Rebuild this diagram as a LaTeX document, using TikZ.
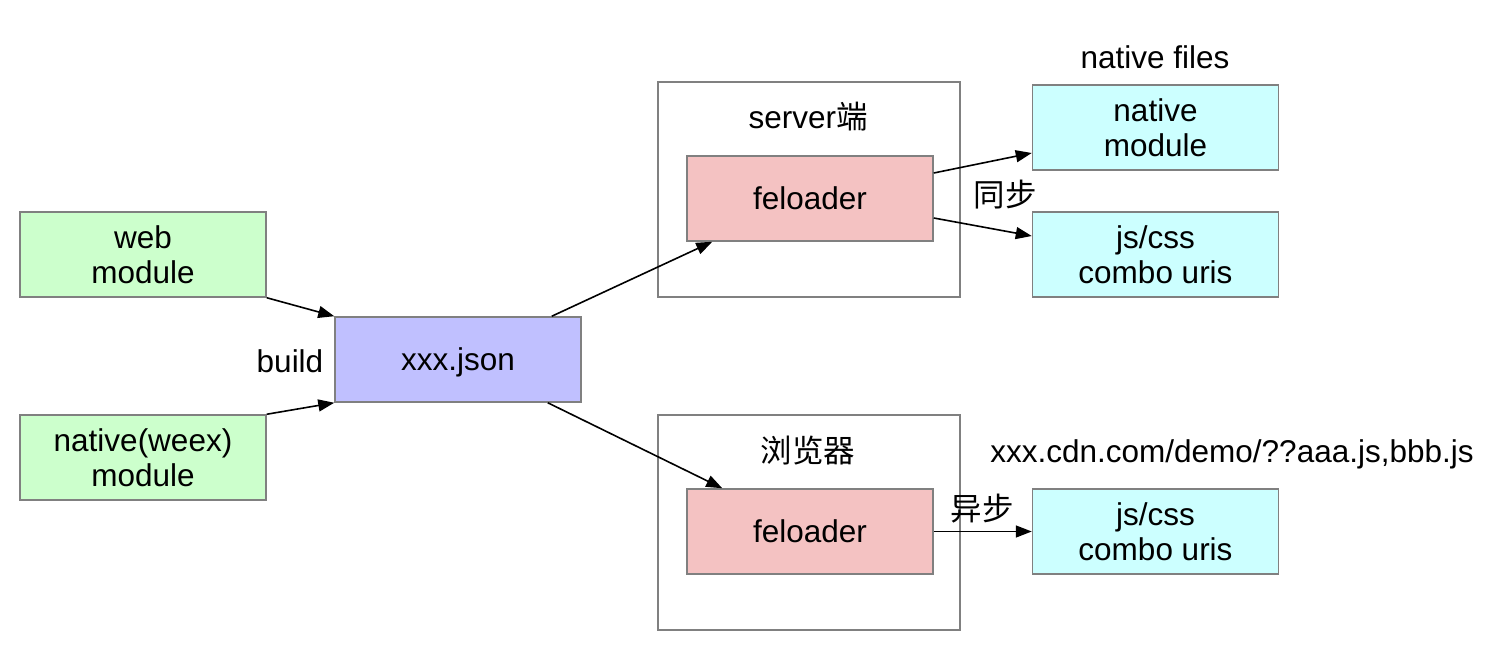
\documentclass[tikz,border=0pt]{standalone}
\usepackage{fontspec}
\setmainfont{Liberation Sans}
\newfontfamily\cjk{Noto Sans CJK SC}
\usetikzlibrary{arrows.meta}
\definecolor{modgreen}{HTML}{CCFFCC}
\definecolor{jsonblue}{HTML}{C0C0FF}
\definecolor{loadpink}{HTML}{F4C2C2}
\definecolor{filecyan}{HTML}{CCFFFF}
\definecolor{boxgray}{HTML}{808080}

\begin{document}
\begin{tikzpicture}[x=1pt,y=-1pt,
  txt/.style={font=\fontsize{31.5}{35}\selectfont},
  box/.style={txt,draw=boxgray,line width=1.5pt,minimum width=246pt,minimum height=85pt,inner sep=0pt,align=center,text depth=-2pt},
  frame/.style={draw=boxgray,line width=1.5pt,fill=white,minimum width=302pt,minimum height=215pt,inner sep=0pt},
  arr/.style={line width=1.6pt,-{Triangle[length=16pt,width=12pt]}}]
\useasboundingbox (0,0) rectangle (1510,660);
% inputs
\node[box,fill=modgreen] (web) at (143,254.5) {web\\module};
\node[box,fill=modgreen] (weex) at (143,457.5) {native(weex)\\module};
\node[box,fill=jsonblue] (json) at (458,359.5) {xxx.json};
\node[txt] (build) at (290,361) {build};
% server side
\node[frame] (server) at (809,189.5) {};
\node[txt] (srvname) at (808,117) {server{\cjk 端}};
\node[box,fill=loadpink] (srvload) at (810,198.5) {feloader};
\node[box,fill=filecyan] (native) at (1155.5,127.5) {native\\module};
\node[box,fill=filecyan] (srvcombo) at (1155.5,254.5) {js/css\\combo uris};
\node[txt] (files) at (1155,57) {native files};
\node[txt] (sync) at (1005,195) {\cjk 同步};
% browser side
\node[frame] (browser) at (809,522.5) {};
\node[txt] (brwname) at (808,451) {\cjk 浏览器};
\node[box,fill=loadpink] (brwload) at (810,531.5) {feloader};
\node[box,fill=filecyan] (brwcombo) at (1155.5,531.5) {js/css\\combo uris};
\node[txt] (cdn) at (1232,454) {xxx.cdn.com/demo/??aaa.js,bbb.js};
\node[txt] (async) at (982,509) {\cjk 异步};
% connectors
\draw[arr] (web.south east) -- (json.north west);
\draw[arr] (weex.north east) -- (json.south west);
\draw[arr] ([xshift=-30pt]json.north east) -- ([xshift=26pt]srvload.south west);
\draw[arr] ([xshift=-34pt]json.south east) -- ([xshift=36pt]brwload.north west);
\draw[arr] ([yshift=25.5pt]srvload.east) -- ([yshift=-25.5pt]native.west);
\draw[arr] ([yshift=-19.5pt]srvload.east) -- ([yshift=18.5pt]srvcombo.west);
\draw[arr] (brwload.east) -- (brwcombo.west);
\end{tikzpicture}
\end{document}
